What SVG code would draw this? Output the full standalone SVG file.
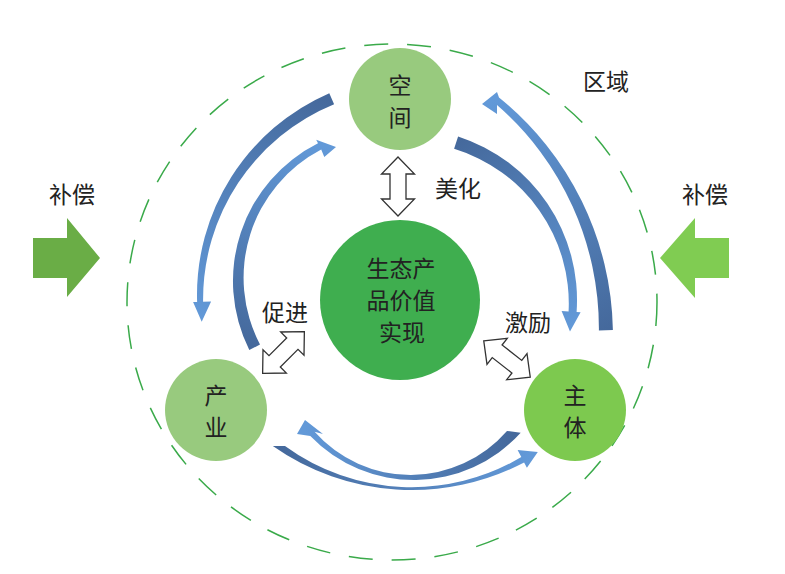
<svg xmlns="http://www.w3.org/2000/svg" width="785" height="574" viewBox="0 0 785 574">
<defs>
<style>
text{font-family:"Noto Sans CJK SC","Liberation Sans",sans-serif;font-size:23px;fill:#222;text-anchor:middle;dominant-baseline:central}
.dbl{fill:#fff;stroke:#333;stroke-width:1.3;stroke-linejoin:miter}
.boundary{fill:none;stroke:#3aaa4a;stroke-width:1.5;stroke-dasharray:24 19}
.light{fill:#98ca7e}
.main{fill:#7dc94f}
.core{fill:#3fae4f}
</style>
<linearGradient id="g1" gradientUnits="userSpaceOnUse" x1="327" y1="99" x2="203" y2="320"><stop offset="0" stop-color="#45699c"/><stop offset="1" stop-color="#6299d8"/></linearGradient>
<linearGradient id="g2" gradientUnits="userSpaceOnUse" x1="256" y1="347" x2="330" y2="148"><stop offset="0" stop-color="#45699c"/><stop offset="1" stop-color="#6299d8"/></linearGradient>
<linearGradient id="g3" gradientUnits="userSpaceOnUse" x1="605" y1="330" x2="488" y2="103"><stop offset="0" stop-color="#45699c"/><stop offset="1" stop-color="#6299d8"/></linearGradient>
<linearGradient id="g4" gradientUnits="userSpaceOnUse" x1="457" y1="142" x2="569" y2="328"><stop offset="0" stop-color="#45699c"/><stop offset="1" stop-color="#6299d8"/></linearGradient>
<linearGradient id="g5" gradientUnits="userSpaceOnUse" x1="513" y1="433" x2="305" y2="425"><stop offset="0" stop-color="#45699c"/><stop offset="1" stop-color="#6299d8"/></linearGradient>
<linearGradient id="g6" gradientUnits="userSpaceOnUse" x1="279" y1="446" x2="530" y2="455"><stop offset="0" stop-color="#45699c"/><stop offset="1" stop-color="#6299d8"/></linearGradient>
<path id="dblArrow" class="dbl" d="M0,-29.5 L16.5,-12.5 L8,-12.5 L8,12.5 L16.5,12.5 L0,29.5 L-16.5,12.5 L-8,12.5 L-8,-12.5 L-16.5,-12.5 Z"/>
</defs>
<rect width="785" height="574" fill="#fff"/>

<g id="region">
<ellipse class="boundary" cx="392" cy="302" rx="265" ry="258"/>
<text x="606" y="80">区域</text>
</g>

<g id="compensation-left">
<path d="M33,238 L67,238 L67,218 L100,258 L67,297 L67,278 L33,278 Z" fill="#6aad46"/>
<text x="72" y="193">补偿</text>
</g>
<g id="compensation-right">
<path d="M729,238 L695,238 L695,218 L660,258 L695,298 L695,278 L729,278 Z" fill="#80cc52"/>
<text x="705" y="193">补偿</text>
</g>

<g id="connectors">
<path d="M329.3,93.2 A220,220 0 0 0 197.1,301.9 L193.1,302 L201.7,321.8 L211.1,301.5 L203.1,301.7 A211,211 0 0 1 334.1,104.2 Z" fill="url(#g1)"/>
<path d="M249.3,350 A154,154 0 0 1 318,143.3 L316.2,139.7 L336,147 L324.3,157 L321.2,149.6 A144.5,144.5 0 0 0 260,344.6 Z" fill="url(#g2)"/>
<path d="M612.9,330 A306,306 0 0 0 499,97.5 L497,92 L482,104 L497,114 L497,105 A296,296 0 0 1 598.9,330.4 Z" fill="url(#g3)"/>
<path d="M458.1,136.4 A172,172 0 0 1 576.6,312 L580.6,312.3 L570,331.5 L561.6,311 L568.6,311.4 A161.5,161.5 0 0 0 454.1,148.8 Z" fill="url(#g4)"/>
<path d="M520.7,432.7 A144,144 0 0 1 310.3,435.9 L297,434 L305,420 L323,434 L314.6,431.7 A128,128 0 0 0 507,431 Z" fill="url(#g5)"/>
<path d="M272.8,446 A242,242 0 0 0 524.1,462.5 L526.9,467.8 L537.8,451.9 L517.6,450.1 L521.3,457.1 A215,215 0 0 1 285,446 Z" fill="url(#g6)"/>
<use href="#dblArrow" transform="translate(398,186.5)"/>
<use href="#dblArrow" transform="translate(283.5,352.5) rotate(45)"/>
<use href="#dblArrow" transform="translate(507,359) rotate(-52)"/>
<text x="458" y="187">美化</text>
<text x="285" y="311">促进</text>
<text x="528" y="321">激励</text>
</g>

<g id="space">
<circle class="light" cx="400" cy="99" r="51"/>
<text><tspan x="400" y="84">空</tspan><tspan x="400" y="116">间</tspan></text>
</g>
<g id="industry">
<circle class="light" cx="216" cy="410" r="51"/>
<text><tspan x="216" y="394">产</tspan><tspan x="216" y="426">业</tspan></text>
</g>
<g id="subject">
<circle class="main" cx="575" cy="410" r="51"/>
<text><tspan x="575" y="394">主</tspan><tspan x="575" y="426">体</tspan></text>
</g>
<g id="value-realization">
<circle class="core" cx="400" cy="300" r="80"/>
<text><tspan x="401" y="267">生态产</tspan><tspan x="401" y="299">品价值</tspan><tspan x="402" y="331">实现</tspan></text>
</g>
</svg>
